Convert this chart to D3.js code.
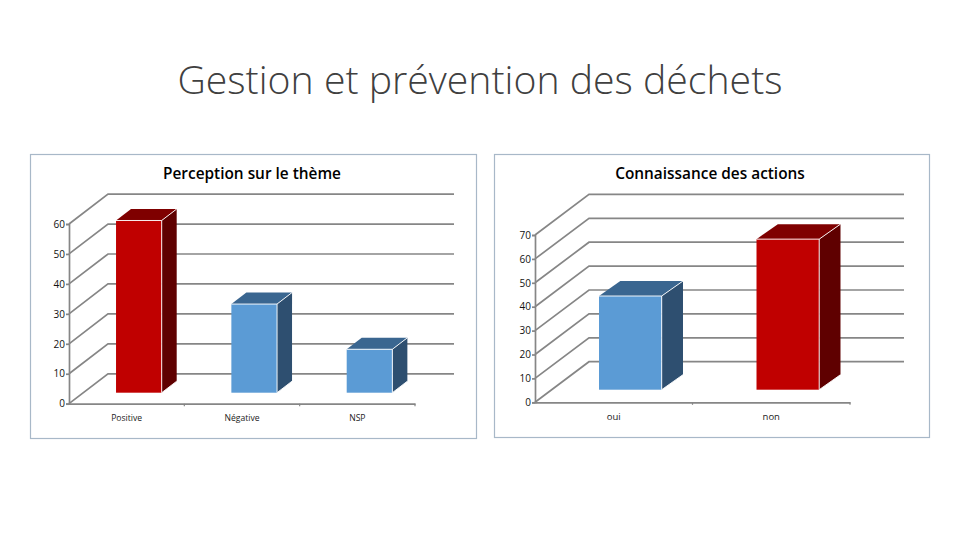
<!DOCTYPE html>
<html><head><meta charset="utf-8">
<script src="https://cdn.jsdelivr.net/npm/d3@7/dist/d3.min.js"></script>
<style>html,body{margin:0;padding:0;background:#fff}svg{display:block}</style></head>
<body><svg id="c" width="960" height="540"></svg>
<script>
const mainTitle = "Gestion et prévention des déchets";
const title1 = "Perception sur le thème";
const categories1 = ["Positive","Négative","NSP"];
const values1 = [57.5,29.6,14.5];
const colors1 = ["red","blue","blue"];
const ticks1 = [0,10,20,30,40,50,60];
const title2 = "Connaissance des actions";
const categories2 = ["oui","non"];
const values2 = [39.2,63];
const colors2 = ["blue","red"];
const ticks2 = [0,10,20,30,40,50,60,70];
const palette = {
  red:{front:"#c00000",top:"#7f0000",side:"#5f0000"},
  blue:{front:"#5b9bd5",top:"#3a6690",side:"#2e4f70"}
};
const svg = d3.select("#c");
svg.append("rect").attr("width",960).attr("height",540).attr("fill","#fff");
svg.append("text").attr("x",480).attr("y",94).attr("text-anchor","middle")
  .attr("font-family","'Open Sans'").attr("font-weight",300).attr("font-size",39.2)
  .attr("fill","#404040").text(mainTitle);

function chart(o){
  const g = svg.append("g");
  g.append("rect").attr("x",o.panel[0]+.5).attr("y",o.panel[1]+.5)
    .attr("width",o.panel[2]-o.panel[0]).attr("height",o.panel[3]-o.panel[1])
    .attr("fill","#fff").attr("stroke","#a8b8c8").attr("stroke-width",1.2);
  g.append("text").attr("x",o.titleX).attr("y",178.5).attr("text-anchor","middle")
    .attr("font-family","'Open Sans'").attr("font-weight",600).attr("font-size",15.4)
    .attr("fill","#000").text(o.title);
  const y = d3.scaleLinear().domain(o.domain).range([o.y0,o.yTop]);
  const x = d3.scaleBand().domain(o.cats).range([o.x0,o.x1]);
  const grid = "#868686";
  const gl = g.append("g").attr("fill","none").attr("stroke",grid).attr("stroke-width",1.7);
  o.ticks.forEach(t=>{
    gl.append("path").attr("d",d3.line()([[o.x0,y(t)],[o.x0+o.dx,y(t)-o.dy],[o.x1+o.dx+o.extra,y(t)-o.dy]]));
  });
  const ax = g.append("g").attr("transform",`translate(${o.x0},0)`)
    .call(d3.axisLeft(y).tickValues(o.ticks).tickSize(3).tickPadding(1));
  ax.selectAll("path,line").attr("stroke",grid).attr("stroke-width",1.7);
  ax.selectAll("text").attr("font-family","'Open Sans'").attr("font-size",10).attr("fill","#111");
  const bx = g.append("g").attr("transform",`translate(0,${o.y0})`)
    .call(d3.axisBottom(x).tickSize(0).tickPadding(o.catPad));
  bx.select("path").attr("stroke",grid).attr("stroke-width",1.7);
  bx.selectAll("text").attr("font-family","'Open Sans'").attr("font-size",o.catSize).attr("fill","#222");
  o.cats.forEach(c=>{
    g.append("line").attr("x1",x(c)+x.step()).attr("x2",x(c)+x.step())
      .attr("y1",o.y0).attr("y2",o.y0+2.5).attr("stroke",grid).attr("stroke-width",1.2);
  });
  const w = x.step()*o.barFrac;
  o.vals.forEach((v,i)=>{
    const c = palette[o.cols[i]];
    const l = x(o.cats[i])+x.step()/2-w/2+o.offX, r = l+w;
    const b = y(0)-o.offY, t = b-(y(0)-y(v));
    const d = o.bdx, e = o.bdy;
    const line = d3.line();
    const bg = g.append("g");
    bg.append("path").attr("d",line([[r,b],[r+d,b-e],[r+d,t-e],[r,t]])+"Z").attr("fill",c.side);
    bg.append("path").attr("d",line([[l,t],[l+d,t-e],[r+d,t-e],[r,t]])+"Z").attr("fill",c.top);
    bg.append("rect").attr("x",l).attr("y",t).attr("width",w).attr("height",b-t).attr("fill",c.front);
    bg.append("path").attr("fill","none").attr("stroke","#fff").attr("stroke-width",.9)
      .attr("d",line([[l,t],[r,t],[r,b]])+line([[r,t],[r+d,t-e]])+line([[r,b],[r+d,b-e]]));
  });
}
chart({panel:[30,154,476,438],title:title1,titleX:252,cats:categories1,vals:values1,cols:colors1,ticks:ticks1,
  domain:[0,60],x0:69,x1:415,y0:403.7,yTop:224,dx:39,dy:29.9,extra:0,
  barFrac:.396,offX:12.2,offY:11,bdx:15,bdy:11.5,catPad:11,catSize:8.6});
chart({panel:[494,154,929,437],title:title2,titleX:710,cats:categories2,vals:values2,cols:colors2,ticks:ticks2,
  domain:[0,70],x0:535,x1:850,y0:402.3,yTop:235,dx:54,dy:40.6,extra:0,
  barFrac:.398,offX:16.6,offY:12.6,bdx:21.3,bdy:15,catPad:11,catSize:9.5});
</script></body></html>
